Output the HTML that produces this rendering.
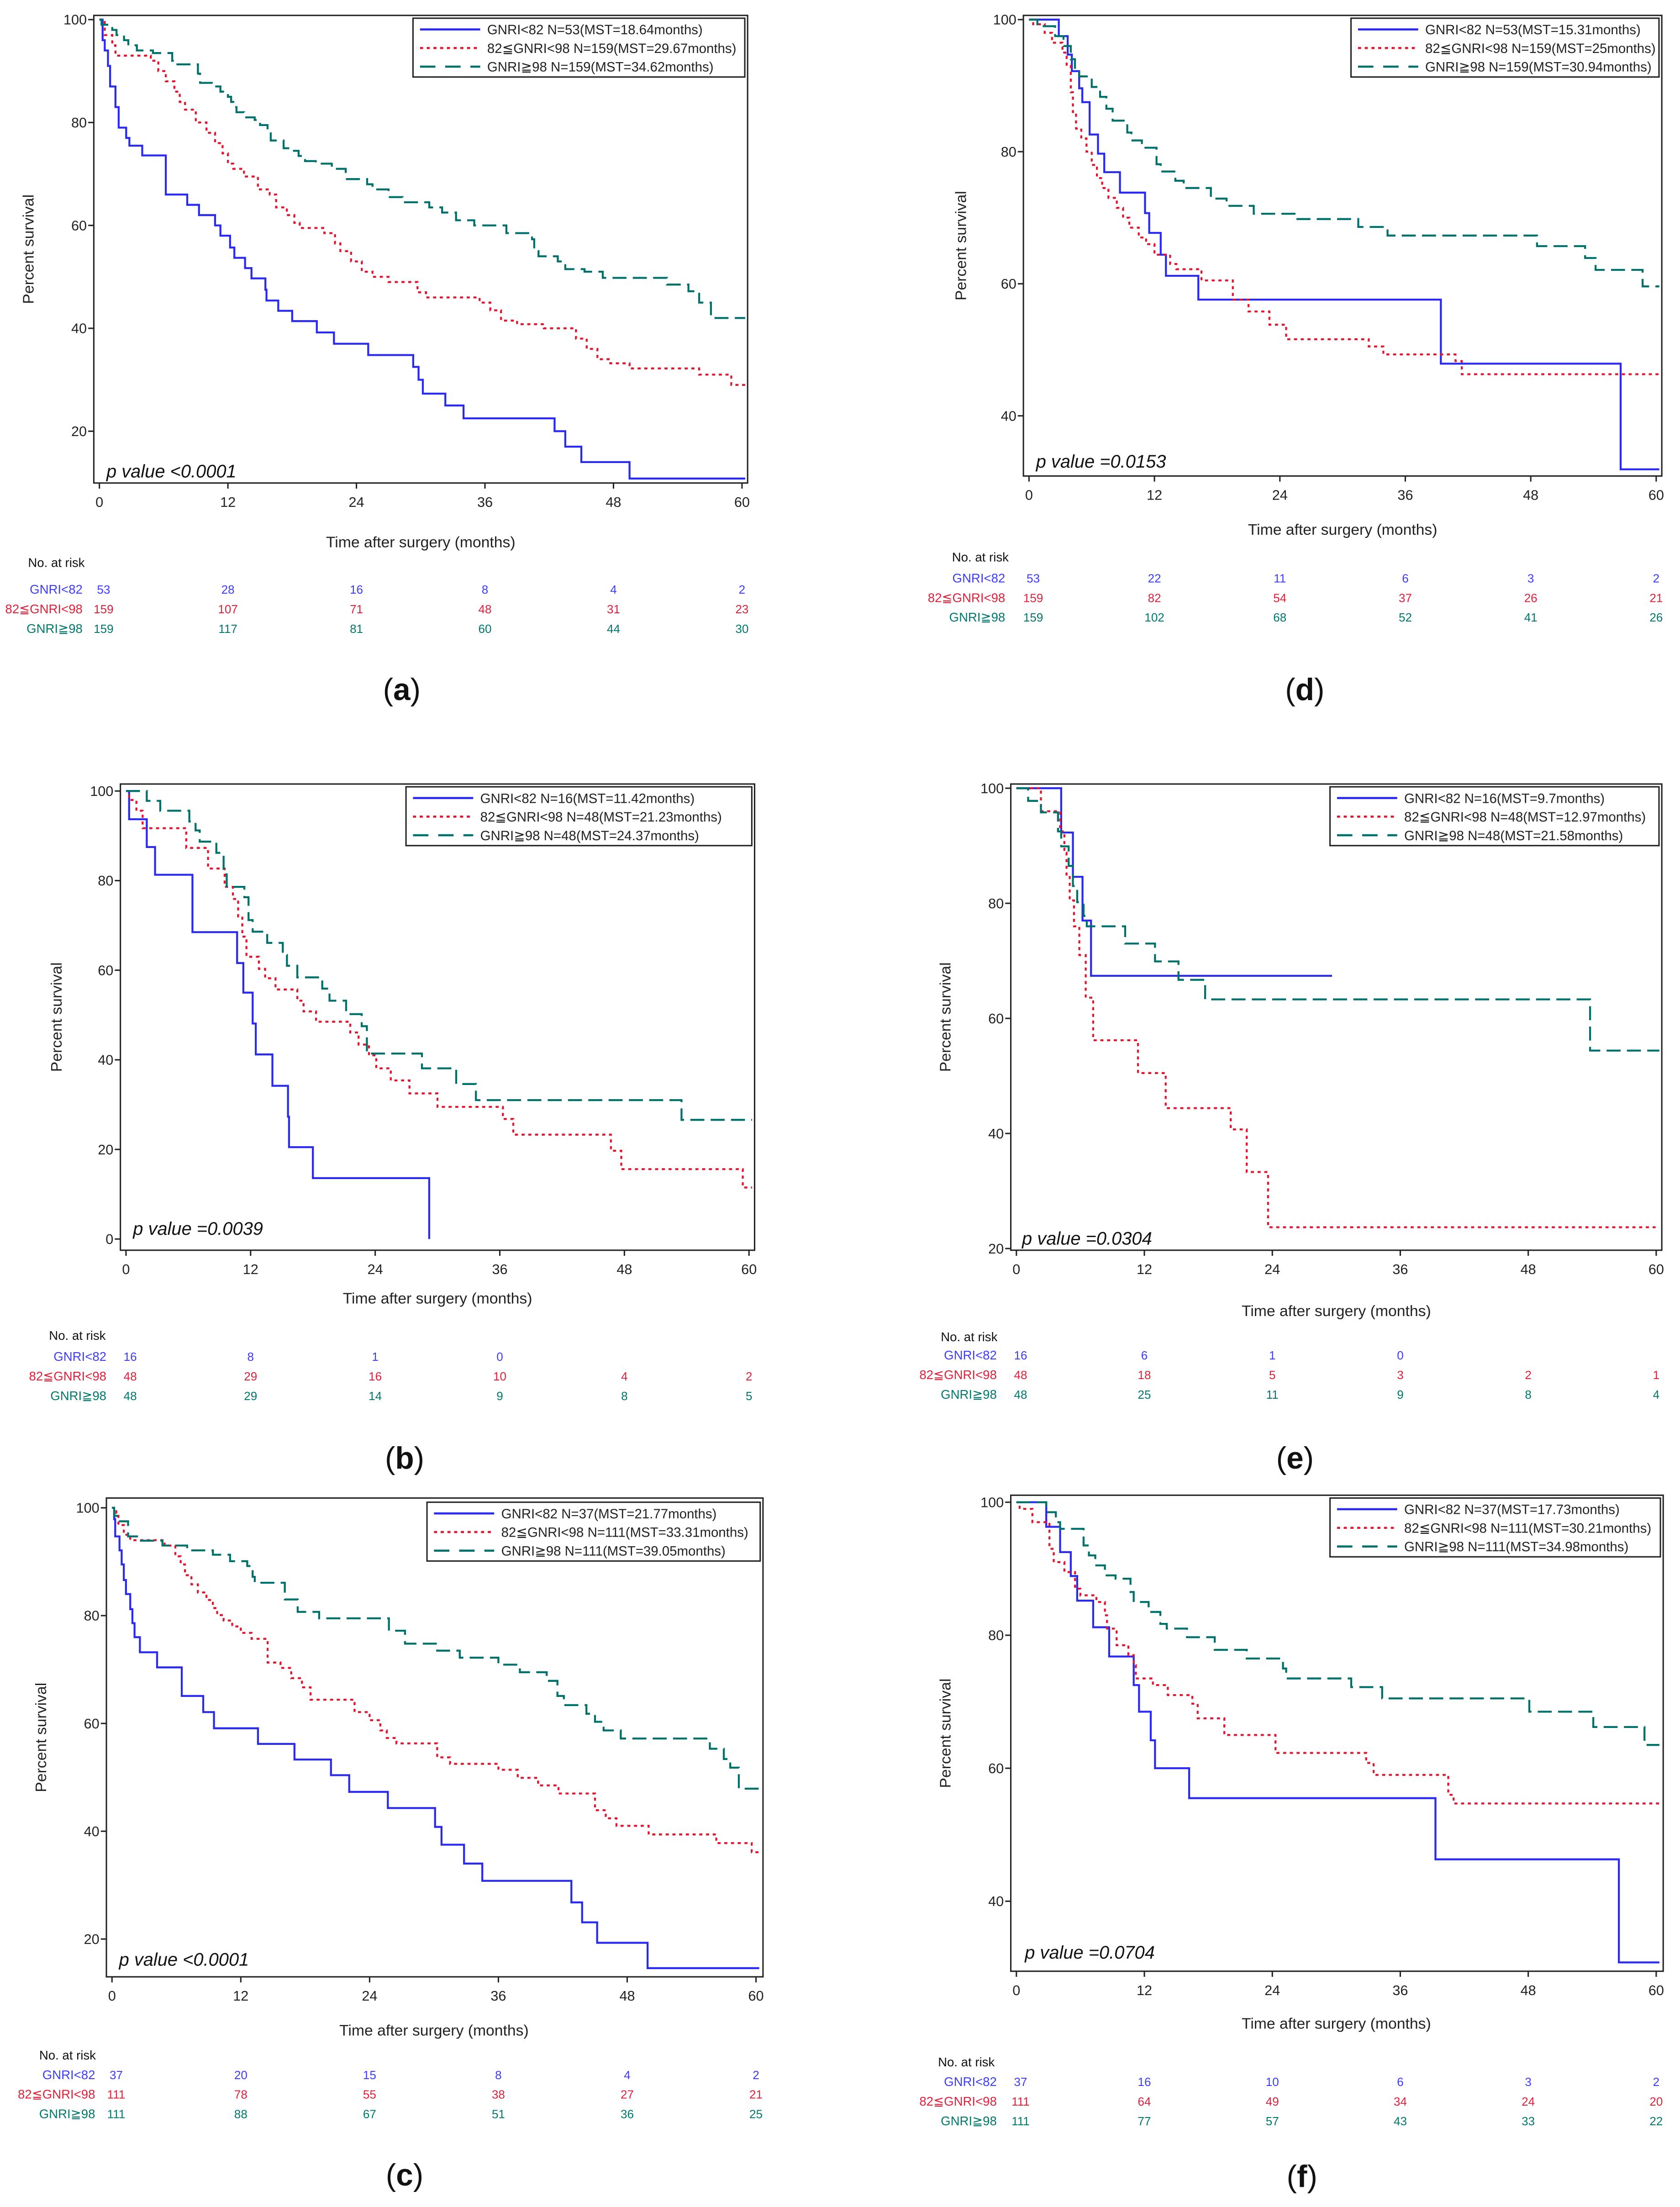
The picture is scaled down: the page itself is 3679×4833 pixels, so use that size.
<!DOCTYPE html>
<html><head><meta charset="utf-8">
<style>
html,body{margin:0;padding:0;background:#fff;}
svg{display:block;}
text{font-family:"Liberation Sans","DejaVu Sans","Noto Sans CJK JP",sans-serif;}
</style></head>
<body>
<svg id="fig" xmlns="http://www.w3.org/2000/svg" width="3679" height="4833" viewBox="0 0 1200 1576.4"></svg>
<script>
// ---------- DATA ----------
const xTicks = [0,12,24,36,48,60];
const riskTimes = [0,12,24,36,48,60];
const groupLabels = ["GNRI<82","82≦GNRI<98","GNRI≧98"];

// panel a
const a_blue_t=[0.3,0.5,0.8,1,1.5,1.8,2.5,2.8,4,6.2,8.2,9.3,10.8,11.3,12.2,12.6,13.6,14.2,15.5,15.6,16.7,18,20.3,21.9,25.1,29.3,29.8,30.2,32.3,34,42.5,43.5,45,49.5];
const a_blue_s=[96,94,91,87,83,79,77,75.5,73.6,66,64,62,60,58,55.7,53.7,51.7,49.7,47.5,45.4,43.4,41.4,39.2,37,34.8,32.5,30,27.3,25,22.5,20,17,14,10.8];
const a_red_t=[0.5,1.2,1.5,4.8,5.5,6.2,7,7.5,8,9,10,10.8,11.5,12,12.5,13.5,14.8,15.9,16.5,17.5,18.2,18.7,21,22,22.5,23.5,24.5,25.5,27,29.7,30.5,35.5,36.5,37.5,39,41.5,44.5,45.5,46.5,47.7,49.5,56,59];
const a_red_s=[97,95,93,92,90,88,86,84,82.5,80,78,76,74,72,71,69.5,67,66,63.5,62,60.5,59.5,58.5,56.5,55,53,51,50,49,47,46,45,43.5,41.5,40.8,40,38,36,34,33.2,32.2,31,29];
const a_green_t=[0.2,1.2,1.6,2.3,2.7,3.5,5,6.8,7,9.2,9.4,10.5,11.3,12,12.3,12.5,12.8,13.5,14.5,15,15.7,16,17.2,17.8,18.6,19.2,20.2,21.7,23,25,25.5,27,28.3,30.8,32,33.3,35,38,40.4,40.6,41,42.8,43.5,45.3,47,53,55,56,57.1];
const a_green_s=[99,98,97,96,95,94,93.5,92,91.3,89.5,87.7,87,86,85,84,83,82,81,80.5,79.5,78.5,76.5,75,74.5,73.5,72.5,72,71,69,68,67,65.5,64.5,63.5,62.5,61,60,58.5,57.3,55,54,53,51.5,51,49.8,48.5,47.2,45,42];
const a_risk=[[53,28,16,8,4,2],[159,107,71,48,31,23],[159,117,81,60,44,30]];

// panel d
const d_blue_t=[2.85,3.7,4.1,4.8,5.1,5.8,6.6,7.2,8.7,11.1,11.5,12.6,13.1,16.2,39.4,56.6];
const d_blue_s=[97.5,94.7,92.2,89.6,87.5,82.6,79.7,76.9,73.8,70.7,67.7,64.4,61.2,57.6,47.9,31.9];
const d_red_t=[0.4,1.5,2.2,3.2,3.6,4,4.2,4.5,5,5.5,6,6.5,7,7.6,8.4,9,9.6,10.5,11.2,12,13.5,14.1,16.5,19.5,21,23,24.6,32.5,33.9,40.8,41.4];
const d_red_s=[99.3,98,96.5,95,93,89,86,83.5,82,80,78,76,74.5,73,71.5,70,68.5,67,66,64.4,63,62.2,60.5,57.6,55.8,53.8,51.6,50.5,49.3,48.3,46.3];
const d_green_t=[0.8,2.5,3.3,4,4.4,4.8,6,6.8,7.4,8,9.4,9.8,10.8,12.2,12.6,14,14.8,17.4,18.9,21.5,25.4,31.5,34.3,48.6,53.2,54.2,58.7];
const d_green_s=[99,97.5,96,94,92.5,91.4,89.8,88.3,86.5,84.7,82.9,81.7,80.6,78.1,77,75.6,74.5,72.9,71.8,70.6,69.8,68.6,67.3,65.7,63.9,62.1,59.6];
const d_risk=[[53,22,11,6,3,2],[159,82,54,37,26,21],[159,102,68,52,41,26]];

// panel b
const b_blue_t=[0.3,2,2.8,6.4,10.7,11.3,12.2,12.5,14.1,15.6,15.7,18,29.2];
const b_blue_s=[93.7,87.5,81.3,68.5,61.6,55,48.1,41.2,34.2,27.3,20.5,13.6,0];
const b_red_t=[0.3,1.0,1.6,5.8,7.9,9.5,10.3,10.8,11.2,11.6,12.8,13.4,14.4,16.5,17.1,18.3,21.6,22.4,23.4,24.1,25.5,27.3,30,36.3,37.3,46.7,47.7,59.4];
const b_red_s=[98,95.6,91.7,87.3,82.7,78.6,75.9,72,67.5,63,60.3,58.2,55.7,53.2,50.8,48.5,46.1,43.4,41,38.1,35.4,32.5,29.5,26.8,23.3,19.7,15.6,11.5];
const b_green_t=[2.0,3.3,6.1,6.7,7.1,8.7,9.4,9.7,11.4,11.8,12.2,13.6,15.1,15.5,16.5,18.9,19.6,21.2,22.7,23.2,28.5,31.8,33.7,53.5];
const b_green_s=[97.8,95.6,93.2,91.2,88.7,86.2,81.4,78.6,76.3,71.2,68.6,66.1,63.4,61,58.4,55.9,53.2,50.2,47.5,41.4,38.1,34.6,31,26.6];
const b_risk=[[16,8,1,0,null,null],[48,29,16,10,4,2],[48,29,14,9,8,5]];

// panel e
const e_blue_t=[4.2,5.3,6.2,7.0];
const e_blue_s=[92.3,84.6,77,67.4];
const e_red_t=[2.3,4.1,4.5,4.7,5.0,5.4,5.9,6.5,7.2,11.4,14,20.1,21.6,23.6];
const e_red_s=[96,92.5,88.8,85,80.5,76,71,63.6,56.2,50.5,44.4,40.7,33.3,23.7];
const e_green_t=[1.1,2.3,3.9,4.2,4.9,5.3,5.7,6.3,6.6,10.2,13,15.2,17.7,53.8];
const e_green_s=[97.8,95.8,92.5,89.9,86.5,83,80.2,77.8,76,73,69.9,66.7,63.3,54.4];
const e_risk=[[16,6,1,0,null,null],[48,18,5,3,2,1],[48,25,11,9,8,4]];

// panel c
const c_blue_t=[0.2,0.3,0.7,0.9,1.1,1.3,1.7,1.9,2.1,2.6,4.2,6.5,8.5,9.5,13.6,17,20.4,22.1,25.7,30.1,30.7,32.8,34.5,42.8,43.8,45.2,49.9];
const c_blue_s=[97.9,94.7,92.1,89.5,86.6,84,81.2,78.6,76,73.2,70.4,65.1,62.1,59.1,56.2,53.3,50.4,47.3,44.3,40.8,37.5,34,30.8,26.8,23.1,19.3,14.6];
const c_red_t=[0.4,0.6,1.1,1.7,4.9,5.9,6.4,6.8,7.4,8,8.8,9.4,9.8,10.4,11.2,12,13,14.5,15.7,16.7,17.7,18.5,22.6,24,25,25.6,26.5,30.3,31.5,36,37.8,39.7,41.6,45,46,47,50,56.3,59.6];
const c_red_s=[99,96.8,95,94,93,91,89.5,87.5,85.8,84.3,82.9,81.4,80.1,79.1,78,76.8,75.7,71.3,70.3,68.4,66.7,64.4,62.1,60.6,58.7,57.3,56.3,53.7,52.5,51.4,49.9,48.5,47,43.9,42.4,41,39.4,37.8,36.1];
const c_green_t=[0.2,0.5,1.5,2.7,4.7,7,9.4,11,12.6,13.1,13.3,16.1,17.3,19.3,25.8,27.3,30.3,32.4,36,38,40.5,41.5,42.1,44.2,45,45.8,47.4,55.7,57,57.6,58.4];
const c_green_s=[98.5,97.5,94.7,93.9,93,92.1,91.3,90.1,89.2,87.2,86.1,83,80.7,79.5,77.2,74.8,73.5,72.2,70.9,69.5,67.9,65.1,63.4,61.8,60.3,58.7,57.2,55.3,53.4,51.8,47.9];
const c_risk=[[37,20,15,8,4,2],[111,78,55,38,27,21],[111,88,67,51,36,25]];

// panel f
const f_blue_t=[2.8,4.1,5.1,5.7,7.2,8.7,11.0,11.5,12.6,13.0,16.2,39.3,56.5];
const f_blue_s=[96.3,92.5,88.9,85.2,81.2,76.8,72.5,68.5,64.2,60,55.5,46.3,30.8];
const f_red_t=[0.3,1.5,3.1,3.5,4.5,5.5,6,7.5,8.3,8.5,9.4,10.5,11,11.2,12.8,14.2,16.5,17,19.5,24.3,32.8,33.5,40.5,41];
const f_red_s=[99,97,93,91,89.5,87,86,85,83,81,78.5,77,75.5,73.5,72.5,71,69.7,67.5,65,62.3,60.8,59,56,54.7];
const f_green_t=[2.8,3.7,4.1,6.3,6.8,7.4,8.3,9.3,10.7,11,12.4,13.5,14.1,16,18.6,21.6,25,25.3,31.4,34.3,48.1,54.1,58.9];
const f_green_s=[98.5,97,96,93.5,92,90.5,89,88.5,86.5,85,83.5,81.7,81,79.7,77.8,76.5,75,73.5,72.2,70.5,68.5,66.2,63.5];
const f_risk=[[37,16,10,6,3,2],[111,64,49,34,24,20],[111,77,57,43,33,22]];

const blueEnd_b = 29.2, blueEnd_e = 29.6;

// ---------- DRAW ----------
const NS="http://www.w3.org/2000/svg";
const svg=document.getElementById('fig');
const COL=["#2a2af0","#e3142d","#00716a"];
const RCOL=["#3c3cff","#e3203a","#00786e"];
const DASH=["","2.2,2.6","10,4.5"];

function mk(tag,attrs,parent){const e=document.createElementNS(NS,tag);for(const k in attrs)e.setAttribute(k,attrs[k]);(parent||svg).appendChild(e);return e;}

function panel(P){
  const g=mk('g',{});
  
  
  const X=t=>P.x0+(P.x60-P.x0)*t/60;
  const Y=s=>P.y100+(100-s)*P.k;
  const box=mk('rect',{x:P.bx0,y:P.by0,width:P.bx1-P.bx0,height:P.by1-P.by0,fill:'none',stroke:'#222','stroke-width':1},g);
  
  
  P.yt.forEach(v=>{
    mk('line',{x1:P.bx0-4,x2:P.bx0,y1:Y(v),y2:Y(v),stroke:'#222','stroke-width':1},g);
    const t=mk('text',{x:P.bx0-5,y:Y(v)+3.5,'font-size':10,'text-anchor':'end',fill:'#222'},g);
    t.textContent=v;
    
    
  });
  xTicks.forEach(v=>{
    mk('line',{x1:X(v),x2:X(v),y1:P.by1,y2:P.by1+4,stroke:'#222','stroke-width':1},g);
    const t=mk('text',{x:X(v),y:P.by1+17,'font-size':10,'text-anchor':'middle',fill:'#222'},g);
    t.textContent=v;
    
    
  });
  const xl=mk('text',{x:(P.x0+P.x60)/2,y:P.xly,'font-size':11,'text-anchor':'middle',fill:'#222'},g);
  xl.textContent='Time after surgery (months)';
  
  
  const ym=(P.by0+P.by1)/2;
  const yl=mk('text',{x:P.ylx,y:ym,'font-size':11,'text-anchor':'middle',fill:'#222',transform:`rotate(-90 ${P.ylx} ${ym})`},g);
  yl.textContent='Percent survival';
  
  
  P.series.forEach((S,i)=>{
    let d=`M${X(0)},${Y(100)}`;
    for(let j=0;j<S.t.length;j++){d+=` H${X(S.t[j])} V${Y(S.s[j])}`;}
    d+=` H${X(S.end)}`;
    const p=mk('path',{d:d,fill:'none',stroke:COL[i],'stroke-width':1.4},g);
    if(DASH[i])p.setAttribute('stroke-dasharray',DASH[i]);
    
    
  });
  const L=P.leg;
  const lg=mk('g',{},g);
  
  
  mk('rect',{x:L[0],y:L[1],width:L[2],height:42,fill:'#fff',stroke:'#222','stroke-width':1},lg);
  P.legText.forEach((s,i)=>{
    const yy=L[1]+8+i*13.3;
    const ln=mk('line',{x1:L[0]+5,x2:L[0]+48,y1:yy,y2:yy,stroke:COL[i],'stroke-width':1.5},lg);
    if(DASH[i])ln.setAttribute('stroke-dasharray',i==2?'11,7':DASH[i]);
    const t=mk('text',{x:L[0]+53,y:yy+3.5,'font-size':9.6,fill:'#222'},lg);
    t.textContent=s;
    
    
  });
  const pv=mk('text',{x:P.pv[0],y:P.pv[1],'font-size':13,'font-style':'italic',fill:'#111'},g);
  pv.textContent=P.pvText;
  
  
  const hd=mk('text',{x:P.rh[0],y:P.rh[1],'font-size':9,fill:'#111','font-family':'"Liberation Serif",serif'},g);
  hd.textContent='No. at risk';
  
  
  P.risk.forEach((row,i)=>{
    const yy=P.rows[i];
    const lb=mk('text',{x:P.rl,y:yy,'font-size':9,'text-anchor':'end',fill:RCOL[i]},g);
    lb.textContent=groupLabels[i];
    
    
    row.forEach((v,j)=>{
      if(v===null)return;
      const t=mk('text',{x:X(riskTimes[j])+(j==0?3:0),y:yy,'font-size':8.5,'text-anchor':'middle',fill:RCOL[i]},g);
      t.textContent=v;
      
      
    });
  });
  const cp=mk('text',{x:P.cap[0],y:P.cap[1],'font-size':22,'text-anchor':'middle',fill:'#111','font-family':'"Liberation Serif",serif'},g);
  cp.innerHTML='(<tspan font-weight="bold">'+P.id+'</tspan>)';
  
  
}

const ser=(bt,bs,be,rt,rs,gt,gs)=>[{t:bt,s:bs,end:be},{t:rt,s:rs,end:60.3},{t:gt,s:gs,end:60.3}];

panel({id:'a',x0:71,x60:530,y100:14,k:3.675,bx0:67,bx1:534,by0:11,by1:345,yt:[100,80,60,40,20],
  xly:391,ylx:24,leg:[295,13,237],pv:[76,341],pvText:'p value <0.0001',
  legText:['GNRI<82 N=53(MST=18.64months)','82≦GNRI<98 N=159(MST=29.67months)','GNRI≧98 N=159(MST=34.62months)'],
  series:ser(a_blue_t,a_blue_s,60.3,a_red_t,a_red_s,a_green_t,a_green_s),
  risk:a_risk,rh:[20,405],rows:[424,438,452],rl:59,cap:[287,500]});
panel({id:'d',x0:735,x60:1183,y100:14,k:4.717,bx0:731,bx1:1187,by0:11,by1:340,yt:[100,80,60,40],
  xly:382,ylx:690,leg:[965,13,220],pv:[740,334],pvText:'p value =0.0153',
  legText:['GNRI<82 N=53(MST=15.31months)','82≦GNRI<98 N=159(MST=25months)','GNRI≧98 N=159(MST=30.94months)'],
  series:ser(d_blue_t,d_blue_s,60.3,d_red_t,d_red_s,d_green_t,d_green_s),
  risk:d_risk,rh:[680,401],rows:[416,430,444],rl:718,cap:[932,500]});
panel({id:'b',x0:90,x60:535,y100:565,k:3.2,bx0:86,bx1:539,by0:560,by1:893,yt:[100,80,60,40,20,0],
  xly:931,ylx:44,leg:[290,562,247],pv:[95,882],pvText:'p value =0.0039',
  legText:['GNRI<82 N=16(MST=11.42months)','82≦GNRI<98 N=48(MST=21.23months)','GNRI≧98 N=48(MST=24.37months)'],
  series:ser(b_blue_t,b_blue_s,blueEnd_b,b_red_t,b_red_s,b_green_t,b_green_s),
  risk:b_risk,rh:[35,957],rows:[972,986,1000],rl:76,cap:[289,1049]});
panel({id:'e',x0:726,x60:1183,y100:563,k:4.11,bx0:722,bx1:1187,by0:560,by1:893,yt:[100,80,60,40,20],
  xly:940,ylx:679,leg:[950,562,235],pv:[730,889],pvText:'p value =0.0304',
  legText:['GNRI<82 N=16(MST=9.7months)','82≦GNRI<98 N=48(MST=12.97months)','GNRI≧98 N=48(MST=21.58months)'],
  series:ser(e_blue_t,e_blue_s,blueEnd_e,e_red_t,e_red_s,e_green_t,e_green_s),
  risk:e_risk,rh:[672,958],rows:[971,985,999],rl:712,cap:[925,1049]});
panel({id:'c',x0:80,x60:540,y100:1077,k:3.85,bx0:76,bx1:545,by0:1070,by1:1412,yt:[100,80,60,40,20],
  xly:1454,ylx:33,leg:[305,1073,238],pv:[85,1404],pvText:'p value <0.0001',
  legText:['GNRI<82 N=37(MST=21.77months)','82≦GNRI<98 N=111(MST=33.31months)','GNRI≧98 N=111(MST=39.05months)'],
  series:ser(c_blue_t,c_blue_s,60.3,c_red_t,c_red_s,c_green_t,c_green_s),
  risk:c_risk,rh:[28,1471],rows:[1485,1499,1513],rl:68,cap:[289,1561]});
panel({id:'f',x0:726,x60:1183,y100:1073,k:4.75,bx0:722,bx1:1188,by0:1068,by1:1408,yt:[100,80,60,40],
  xly:1449,ylx:679,leg:[950,1070,236],pv:[732,1399],pvText:'p value =0.0704',
  legText:['GNRI<82 N=37(MST=17.73months)','82≦GNRI<98 N=111(MST=30.21months)','GNRI≧98 N=111(MST=34.98months)'],
  series:ser(f_blue_t,f_blue_s,60.3,f_red_t,f_red_s,f_green_t,f_green_s),
  risk:f_risk,rh:[670,1476],rows:[1490,1504,1518],rl:712,cap:[930,1562]});
</script>
</body></html>
